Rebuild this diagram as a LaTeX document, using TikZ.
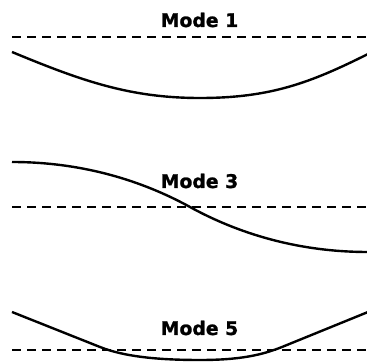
\documentclass[tikz,border=0pt]{standalone}
\usepackage{fontspec}
\setmainfont{DejaVu Sans}
\newfontfamily\labfont{DejaVu Sans Bold}[FakeBold=1.2]
\begin{document}
\begin{tikzpicture}[x=1pt,y=-1pt,
  axisline/.style={line width=1.5pt,dash pattern=on 9pt off 6pt},
  modeline/.style={line width=2.4pt},
  modelabel/.style={font=\labfont\fontsize{18.8}{20}\selectfont,inner sep=0pt,anchor=base}]
\useasboundingbox (0,0) rectangle (367,363);
% Mode 1
\node[modelabel] (m1) at (199.5,27) {Mode 1};
\coordinate (a1l) at (12,37); \coordinate (a1r) at (370,37);
\draw[axisline] (a1l) -- (a1r);
\coordinate (c1s) at (12,52); \coordinate (c1m) at (200,98); \coordinate (c1e) at (368,54);
\draw[modeline] (c1s) .. controls (82,81) and (130,98) .. (c1m)
  .. controls (270,98) and (310,83) .. (c1e);
% Mode 3
\node[modelabel] (m3) at (199.5,188) {Mode 3};
\coordinate (a3l) at (12,207); \coordinate (a3r) at (370,207);
\draw[axisline] (a3l) -- (a3r);
\coordinate (c3s) at (12,162); \coordinate (c3m) at (190,207); \coordinate (c3e) at (368,252);
\draw[modeline] (c3s) .. controls (90,162) and (150,185) .. (c3m)
  .. controls (230,229) and (290,252) .. (c3e);
% Mode 5
\node[modelabel] (m5) at (199.5,335) {Mode 5};
\coordinate (a5l) at (12,350); \coordinate (a5r) at (370,350);
\draw[axisline] (a5l) -- (a5r);
\coordinate (c5s) at (12,312); \coordinate (c5a) at (100,347); \coordinate (c5m) at (200,360);
\coordinate (c5b) at (282,347); \coordinate (c5e) at (368,312);
\draw[modeline] (c5s) -- (c5a) .. controls (125,357) and (160,360) .. (c5m)
  .. controls (240,360) and (262,355) .. (c5b) -- (c5e);
\end{tikzpicture}
\end{document}
